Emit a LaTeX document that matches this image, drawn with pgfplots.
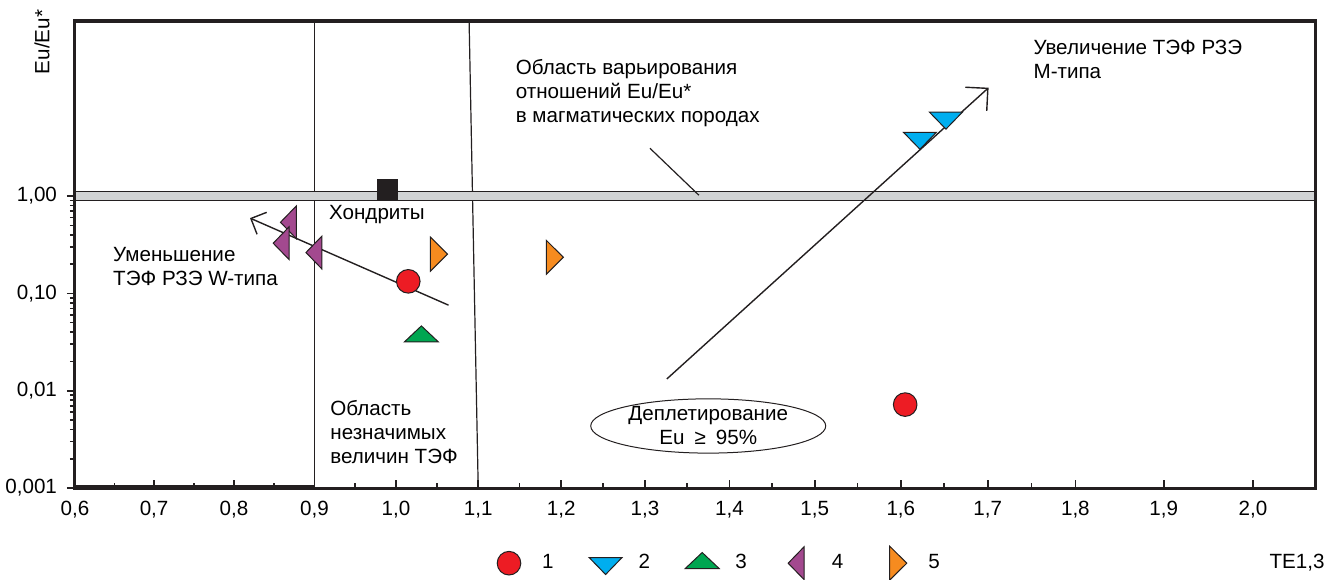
\documentclass[border=0pt]{standalone}
\usepackage{fontspec}
\setmainfont{Liberation Sans}
\usepackage{pgfplots}
\pgfplotsset{compat=1.18}
\usetikzlibrary{arrows.meta,shapes.geometric}
\definecolor{myred}{HTML}{ED1C24}
\definecolor{myblue}{HTML}{00AEEF}
\definecolor{mygreen}{HTML}{00A651}
\definecolor{mypurple}{HTML}{A3498F}
\definecolor{myorange}{HTML}{F68B1F}
\definecolor{bandgray}{HTML}{D1D3D4}
\definecolor{axblack}{HTML}{231F20}
\begin{document}
\begin{tikzpicture}
\useasboundingbox (-37.5pt,-45.5pt) rectangle (631.5pt,244pt);
\begin{axis}[
  at={(0pt,0pt)}, anchor=south west,
  scale only axis, width=620pt, height=233.5pt,
  x coord trafo/.code={\pgfmathparse{#1+0.0495*(#1-0.6)*(#1-0.6)}},
  x coord inv trafo/.code={\pgfmathparse{0.6+(-1+sqrt(1+0.198*(#1-0.6)))/0.099}},
  xmin=0.6, xmax=2.069, ymode=log, ymin=0.001, ymax=63,
  clip=false, axis on top,
  axis line style={line width=1.5pt, color=axblack},
  font=\fontsize{10.3}{12}\selectfont,
  xtick={0.6,0.7,0.8,0.9,1.0,1.1,1.2,1.3,1.4,1.5,1.6,1.7,1.8,1.9,2.0},
  xticklabels={{0,6},{0,7},{0,8},{0,9},{1,0},{1,1},{1,2},{1,3},{1,4},{1,5},{1,6},{1,7},{1,8},{1,9},{2,0}},
  minor xtick={0.65,0.75,0.85,0.95,1.05,1.15,1.25,1.35,1.45,1.55,1.65,1.75},
  xtick pos=bottom, xtick align=inside,
  xticklabel style={yshift=-3pt},
  ytick={0.001,0.01,0.1,1},
  yticklabels={{0,001},{0,01},{0,10},{1,00}},
  minor ytick={0.002,0.003,0.004,0.005,0.006,0.007,0.008,0.009,0.02,0.03,0.04,0.05,0.06,0.07,0.08,0.09,0.2,0.3,0.4,0.5,0.6,0.7,0.8,0.9},
  ytick pos=left, ytick align=outside,
  yticklabel style={xshift=-1.5pt},
  major tick length=4pt, minor tick length=2.5pt,
  tick style={line width=0.8pt, color=axblack},
  xlabel={TE1,3},
  xlabel style={at={(axis description cs:0.9855,-0.1606)}, anchor=center},
  ylabel={Eu/Eu*},
  ylabel style={at={(axis description cs:-0.0266,0.955)}, anchor=center},
  legend columns=5,
  legend image code/.code={\path[draw=none, fill=none] (0cm,-0.1cm) rectangle (0.6cm,0.1cm); \draw[#1] plot coordinates {(0.3cm,0cm)};},
  legend style={draw=none, fill=none, at={(axis description cs:0.5185,-0.161)}, anchor=center,
    font=\fontsize{10.3}{12}\selectfont,
    /tikz/every odd column/.append style={column sep=6pt},
    /tikz/every even column/.append style={column sep=15.5pt}},
]
% boundary lines
\addplot[line width=0.6pt, color=axblack, forget plot] coordinates {(0.9,63) (0.9,0.00105) (0.6,0.00105)};
\addplot[line width=0.6pt, color=axblack, forget plot] coordinates {(1.089,63) (1.1,0.00103)};
% band of magmatic rocks
\addplot[fill=bandgray, draw=axblack, line width=0.6pt, forget plot] coordinates {(0.6,0.9) (2.069,0.9) (2.069,1.11) (0.6,1.11) (0.6,0.9)};
% leader line
\addplot[line width=0.6pt, color=axblack, forget plot] coordinates {(1.306,3.1) (1.364,1.02)};
% arrows
\addplot[line width=0.7pt, color=axblack, -{Straight Barb[length=6pt,width=12pt]}, forget plot] coordinates {(1.064,0.0757) (0.820,0.594)};
\addplot[line width=0.7pt, color=axblack, -{Straight Barb[length=8pt,width=16pt]}, forget plot] coordinates {(1.326,0.0132) (1.701,13)};
% chondrite
\addplot[only marks, mark=square*, mark size=5pt, mark options={fill=axblack, draw=axblack}, forget plot] coordinates {(0.99,1.17)};
% series
\addplot[only marks, mark=*, mark size=5.9pt, mark options={fill=myred, draw=axblack, line width=0.5pt}] coordinates {(1.015,0.133) (1.605,0.0072)};
\addlegendentry{1}
\addplot[only marks, mark=triangle*, mark size=9.5pt, mark options={yscale=-0.595, fill=myblue, draw=axblack, line width=0.5pt}] coordinates {(1.622,3.96) (1.652,6.37)};
\addlegendentry{2}
\addplot[only marks, mark=triangle*, mark size=9.8pt, mark options={yscale=0.544, fill=mygreen, draw=axblack, line width=0.5pt}] coordinates {(1.031,0.036)};
\addlegendentry{3}
\addplot[only marks, mark=triangle*, mark size=9.5pt, mark options={xscale=0.56, rotate=90, fill=mypurple, draw=axblack, line width=0.5pt}] coordinates {(0.871,0.538) (0.862,0.328) (0.9025,0.263)};
\addlegendentry{4}
\addplot[only marks, mark=triangle*, mark size=9.8pt, mark options={xscale=-0.58, rotate=90, fill=myorange, draw=axblack, line width=0.5pt}] coordinates {(1.049,0.253) (1.189,0.235)};
\addlegendentry{5}
% annotations
\node[anchor=west, align=left, inner sep=0pt] at (axis cs:1.145,11.5) {Область варьирования\\отношений Eu/Eu*\\в магматических породах};
\node[anchor=west, align=left, inner sep=0pt] at (axis cs:1.752,25.1) {Увеличение ТЭФ РЗЭ\\М-типа};
\node[anchor=west, align=left, inner sep=0pt] at (axis cs:0.9175,0.64) {Хондриты};
\node[anchor=west, align=left, inner sep=0pt] at (axis cs:0.648,0.187) {Уменьшение\\ТЭФ РЗЭ W-типа};
\node[anchor=west, align=left, inner sep=0pt] at (axis cs:0.919,0.00376) {Область\\незначимых\\величин ТЭФ};
\node[ellipse, draw=axblack, line width=0.5pt, minimum width=117.5pt, minimum height=27pt, inner sep=0pt, align=center] at (axis cs:1.375,0.00434) {Деплетирование\\Eu\hspace{5pt}≥\hspace{5pt}95\%};
\end{axis}
\end{tikzpicture}
\end{document}
